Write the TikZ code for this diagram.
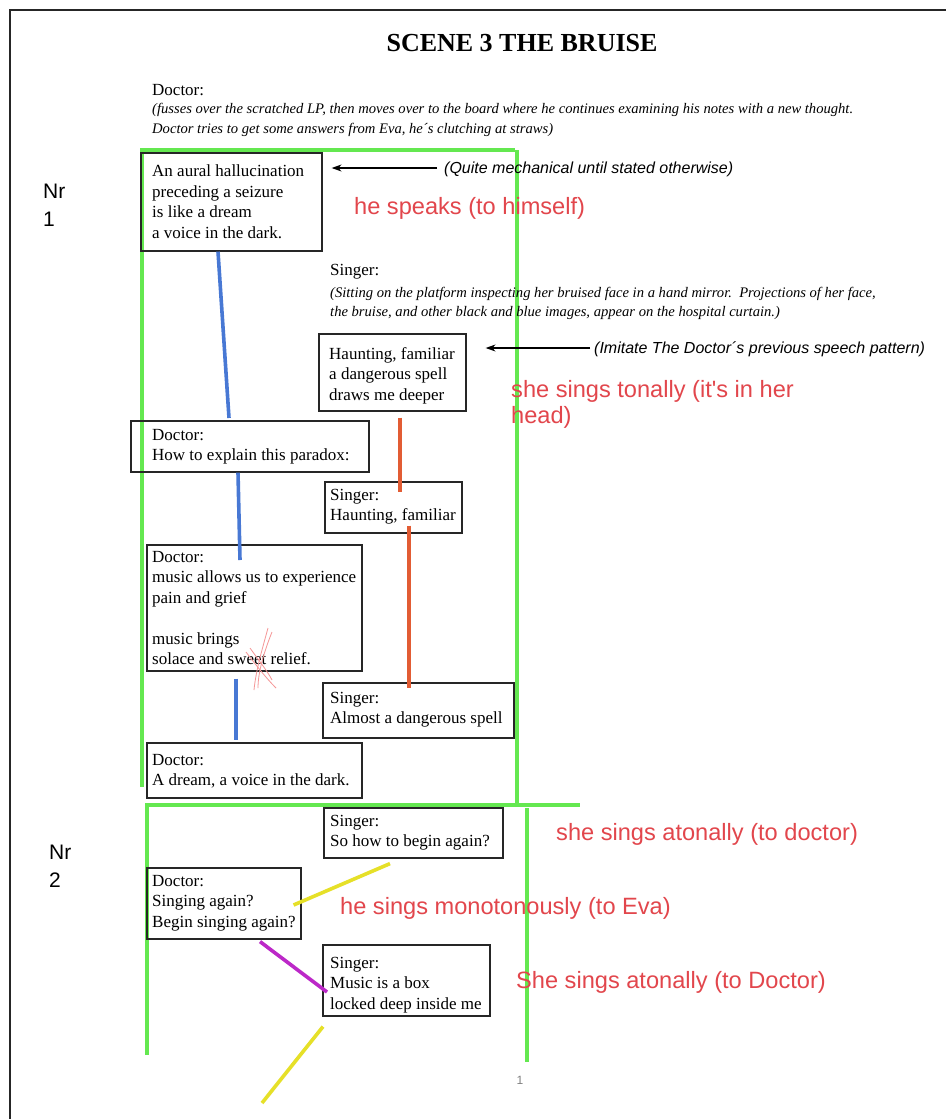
\documentclass[tikz,border=0pt]{standalone}
\usepackage{fontspec}
\setmainfont{Liberation Serif}
\setsansfont{Liberation Sans}
\newfontfamily\redsans{Liberation Sans}
\usetikzlibrary{arrows.meta,calc}
\definecolor{grn}{RGB}{100,232,80}
\definecolor{bl}{RGB}{72,120,212}
\definecolor{org}{RGB}{226,92,52}
\definecolor{ylw}{RGB}{230,224,40}
\definecolor{mag}{RGB}{188,40,200}
\definecolor{rd}{RGB}{226,70,76}
\definecolor{pk}{RGB}{245,150,150}
\tikzset{
  box/.style={draw=black!85, line width=1.6pt, anchor=north west, inner sep=0pt},
  body/.style={anchor=north west, inner sep=0pt, align=left, font=\fontsize{17}{20.5}\selectfont},
  line/.style={anchor=base west, inner sep=0pt, font=\fontsize{17}{20.5}\selectfont},
  dir/.style={anchor=base west, inner sep=0pt, font=\fontsize{14.6}{19}\selectfont\itshape},
  ann/.style={anchor=base west, inner sep=0pt, font=\fontsize{16}{19}\selectfont\sffamily\itshape},
  redtxt/.style={anchor=base west, inner sep=0pt, text=rd, font=\fontsize{23.6}{26}\selectfont\redsans},
  nr/.style={anchor=base west, inner sep=0pt, font=\fontsize{21}{28}\selectfont\sffamily},
  gline/.style={draw=grn, line width=3.6pt},
  conn/.style={line width=3.6pt},
  arr/.style={draw=black, line width=1.3pt, -{Stealth[length=10pt,width=7pt]}},
}
\begin{document}
\begin{tikzpicture}[x=1pt,y=-1pt]
\useasboundingbox (0,0) rectangle (946,1119);
\fill[white] (0,0) rectangle (946,1119);
% page border
\draw[black!85, line width=2.6pt] (10,1119) -- (10,10) -- (946,10);

% title and directions
\node[anchor=base, inner sep=0pt, font=\fontsize{26}{30}\selectfont\bfseries] (title) at (522,51) {SCENE 3 THE BRUISE};
\node[line] (doc0) at (152,95) {Doctor:};
\node[dir] (dir1) at (152,113) {(fusses over the scratched LP, then moves over to the board where he continues examining his notes with a new thought.};
\node[dir] (dir2) at (152,133) {Doctor tries to get some answers from Eva, he´s clutching at straws)};

% green frames
\draw[gline] (140,150) -- (515,150);
\draw[gline] (142,150) -- (142,787);
\draw[gline] (517,150) -- (517,805);
\draw[gline] (145,805) -- (580,805);
\draw[gline] (147,805) -- (147,1055);
\draw[gline] (527,808) -- (527,1062);

% Nr labels
\node[nr] (nr1a) at (43,198) {Nr};
\node[nr] (nr1b) at (43,226) {1};
\node[nr] (nr2a) at (49,859) {Nr};
\node[nr] (nr2b) at (49,887) {2};

% boxes
\node[box, minimum width=181pt, minimum height=98pt] (b1) at (140,152) {};
\node[body] (t1) at (152,165) {An aural hallucination\\preceding a seizure\\is like a dream\\a voice in the dark.};

\node[line] (sing0) at (330,275) {Singer:};
\node[dir] (dir3) at (330,297) {(Sitting on the platform inspecting her bruised face in a hand mirror.\ \ Projections of her face,};
\node[dir] (dir4) at (330,316) {the bruise, and other black and blue images, appear on the hospital curtain.)};

\node[box, minimum width=147pt, minimum height=77pt] (b2) at (318,333) {};
\node[body] (t2) at (329,347) {Haunting, familiar\\a dangerous spell\\draws me deeper};

\node[box, minimum width=238pt, minimum height=51pt] (b3) at (130,420) {};
\node[body] (t3) at (152,429) {Doctor:\\How to explain this paradox:};

\node[box, minimum width=137pt, minimum height=51pt] (b4) at (324,481) {};
\node[body] (t4) at (330,489) {Singer:\\Haunting, familiar};

\node[box, minimum width=215pt, minimum height=126pt] (b5) at (146,544) {};
\node[body] (t5) at (152,551) {Doctor:\\music allows us to experience\\pain and grief\\[20.5pt]music brings\\solace and sweet relief.};

\node[box, minimum width=191pt, minimum height=55pt] (b6) at (322,682) {};
\node[body] (t6) at (330,692) {Singer:\\Almost a dangerous spell};

\node[box, minimum width=215pt, minimum height=55pt] (b7) at (146,742) {};
\node[body] (t7) at (152,754) {Doctor:\\A dream, a voice in the dark.};

\node[box, minimum width=179pt, minimum height=50pt] (b8) at (323,807) {};
\node[body] (t8) at (330,815) {Singer:\\So how to begin again?};

\node[box, minimum width=154pt, minimum height=71pt] (b9) at (146,867) {};
\node[body] (t9) at (152,875) {Doctor:\\Singing again?\\Begin singing again?};

\node[box, minimum width=167pt, minimum height=71pt] (b10) at (322,944) {};
\node[body] (t10) at (330,957) {Singer:\\Music is a box\\locked deep inside me};

% annotations with arrows
\node[ann] (a1) at (444,173) {(Quite mechanical until stated otherwise)};
\node[ann] (a2) at (594,353) {(Imitate The Doctor´s previous speech pattern)};
\draw[arr, shorten <=7pt, shorten >=9pt] (a1.west |- 0,168) -- (b1.east |- 0,168);
\draw[arr, shorten <=4pt, shorten >=19pt] (a2.west |- 0,348) -- (b2.east |- 0,348);

% red annotations
\node[redtxt] (r1) at (354,214) {he speaks (to himself)};
\node[redtxt] (r2) at (511,397) {she sings tonally (it's in her};
\node[redtxt] (r2b) at (511,423) {head)};
\node[redtxt] (r3) at (556,840) {she sings atonally (to doctor)};
\node[redtxt] (r4) at (340,914) {he sings monotonously (to Eva)};
\node[redtxt] (r5) at (516,988) {She sings atonally (to Doctor)};

% connectors
\draw[conn, draw=bl] ($(b1.south west)+(78,0)$) -- ($(b3.north west)+(99,-2)$);
\draw[conn, draw=bl] ($(b3.south west)+(108,0)$) -- ($(b5.north west)+(94,16)$);
\draw[conn, draw=bl] ($(b5.south west)+(90,7)$) -- ($(b7.north west)+(90,-2)$);
\draw[conn, draw=org] ($(b2.south west)+(82,6)$) -- ($(b4.north west)+(76,11)$);
\draw[conn, draw=org] ($(b4.south west)+(85,-8)$) -- ($(b6.north west)+(87,6)$);
\draw[conn, draw=ylw] ($(b8.south west)+(67,5)$) -- ($(b9.north east)+(-8,38)$);
\draw[conn, draw=mag] ($(b9.south west)+(114,2)$) -- ($(b10.north west)+(5,48)$);
\coordinate (yend) at (262,1103);
\draw[conn, draw=ylw] ($(b10.south west)+(1,10)$) -- (yend);

% red scribble
\draw[pk, line width=0.8pt] (268,628) .. controls (262,650) and (256,670) .. (254,690);
\draw[pk, line width=0.8pt] (272,632) .. controls (264,652) and (258,672) .. (258,688);
\draw[pk, line width=0.8pt] (246,652) .. controls (256,665) and (266,678) .. (276,688);
\draw[pk, line width=0.8pt] (250,648) .. controls (260,662) and (268,672) .. (272,680);

% page number
\node[anchor=base, inner sep=0pt, text=black!50, font=\fontsize{12}{14}\selectfont\sffamily] (pg) at (520,1084) {1};
\end{tikzpicture}
\end{document}
